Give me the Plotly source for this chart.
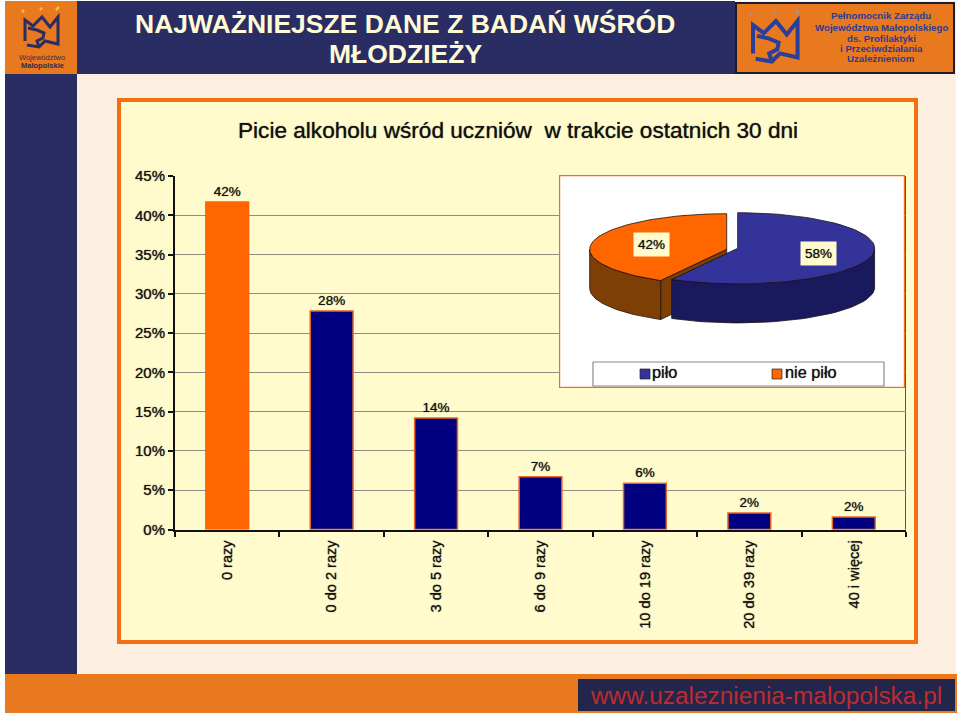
import math
import plotly.graph_objects as go

# ---- data ----
categories = ["0 razy", "0 do 2 razy", "3 do 5 razy", "6 do 9 razy", "10 do 19 razy", "20 do 39 razy", "40 i więcej"]
percent_values = [41.7, 27.8, 14.2, 6.7, 5.9, 2.1, 1.6]
percent_labels = ["42%", "28%", "14%", "7%", "6%", "2%", "2%"]
y_ticks = [0, 5, 10, 15, 20, 25, 30, 35, 40, 45]
pie_names = ["piło", "nie piło"]
pie_values = [58, 42]
title_text = "Picie alkoholu wśród uczniów  w trakcie ostatnich 30 dni"
header_lines = ["NAJWAŻNIEJSZE DANE Z BADAŃ WŚRÓD", "MŁODZIEŻY"]
right_logo_lines = ["Pełnomocnik Zarządu", "Województwa Małopolskiego", "ds. Profilaktyki", "i Przeciwdziałania", "Uzależnieniom"]
footer_text = "www.uzaleznienia-malopolska.pl"

W, H = 960, 716
NAVY = "#2A2D63"
ORANGE = "#E8791E"
CREAM = "#FDEFE0"
PANEL = "#FFFBCC"
FONT = "Liberation Sans"
SOFT = "0 0 1px rgba(0,0,0,0.75)"

px = lambda v: v / W
py = lambda v: 1 - v / H


def rect(x0, y0, x1, y1, fill, line=None, lw=0, layer="below"):
    return dict(type="rect", xref="paper", yref="paper", x0=px(x0), x1=px(x1), y0=py(y0), y1=py(y1),
                fillcolor=fill, line=dict(color=line or fill, width=lw), layer=layer)


def path(points, color, width=3):
    d = "M" + " L".join(f"{px(a):.5f},{py(b):.5f}" for a, b in points)
    return dict(type="path", xref="paper", yref="paper", path=d, layer="above",
                line=dict(color=color, width=width), fillcolor="rgba(0,0,0,0)")


def text(x, y, s, size, color, shadow="none"):
    return dict(xref="paper", yref="paper", x=px(x), y=py(y), text=s, showarrow=False,
                xanchor="center", yanchor="middle", font=dict(family=FONT, size=size, color=color, shadow=shadow))


# ---- page furniture ----
shapes = [
    rect(5, 1, 956, 713, CREAM),
    rect(5, 1, 735, 74, NAVY),
    rect(5, 1, 77, 74, ORANGE),
    rect(5, 74, 77, 674, NAVY),
    rect(5, 674, 957, 713, ORANGE),
    rect(578, 679, 955, 711, "#22264A"),
    rect(735, 2, 955, 74, "#1F1B2E"),
    rect(737, 4, 953, 72, ORANGE),
    rect(119, 100, 916, 642, PANEL, "#F36F12", 4),
    dict(type="line", xref="paper", yref="paper", x0=px(905.5), x1=px(905.5), y0=py(529.5), y1=py(176),
         line=dict(color="#55554A", width=1), layer="below"),
]


def crown(dx, dy, s, color, width):
    out = [(0, 24), (0, 3), (8, 9), (17, 0), (25, 10), (33, 0), (33, 27), (20, 24), (14, 30), (2, 28)]
    river = [(3, 11), (12, 13), (19, 16), (18, 21), (12, 24), (14, 30)]
    return [
        path([(dx + s * a, dy + s * b) for a, b in out], color, width),
        path([(dx + s * a, dy + s * b) for a, b in river], color, width),
    ]


shapes += crown(25, 17, 1, NAVY, 3)
shapes += crown(753, 21, 1.35, "#2A3F9A", 4)
for a, b, c, d in [(22, 12, 24, 10), (40, 10, 42, 8), (56, 10, 59, 7)]:
    shapes.append(path([(a, b), (c, d)], "#F6C23A", 2.5))
for a, b, c, d in [(750, 16, 752, 14), (774, 14, 776, 12), (796, 13, 799, 11)]:
    shapes.append(path([(a, b), (c, d)], "#9E8FA8", 3))

annotations = [
    text(405, 24, f"<b>{header_lines[0]}</b>", 26.5, "#FFFBD6"),
    text(405, 54, f"<b>{header_lines[1]}</b>", 26.5, "#FFFBD6"),
    text(42, 57, "Województwo", 7.5, "#3A3040"),
    text(42, 65, "<b>Małopolskie</b>", 7.5, "#2A2D50"),
    text(518, 131, title_text, 22.6, "#111111", SOFT),
    text(766, 695, footer_text, 24.4, "#BE2B30"),
]
for yy, line in zip([16, 27.5, 38, 48.5, 59], right_logo_lines):
    annotations.append(text(881, yy, f"<b>{line}</b>", 9.7, "#2E3C92"))

fig = go.Figure()

# ---- bar chart ----
fig.add_trace(go.Bar(
    x=categories, y=percent_values, text=percent_labels, textposition="outside", cliponaxis=False,
    textfont=dict(family=FONT, size=13.5, color="#111111", shadow=SOFT), showlegend=False,
    marker=dict(color=["#FF6600"] + ["#000080"] * 6,
                line=dict(color=["#FF6600"] + ["#E8662A"] * 6, width=1.5)),
))

# ---- pie panel, exploded 3-D look computed from the shares ----
RX, RY, DEPTH, F_X, F_Y = 137, 35.6, 39, 346, 213
share = pie_values[0] / sum(pie_values)
split = 2 * math.pi * share
CX_N, CY_N = 737.7 - 559, 248.3 - 175
CX_O, CY_O = 726.7 - 559, 249.3 - 175


def arc(cx, cy, a0, a1, n=70):
    return [(cx + RX * math.sin(a0 + (a1 - a0) * i / n), cy - RY * math.cos(a0 + (a1 - a0) * i / n))
            for i in range(n + 1)]


def poly(pts, fill, lw=0.8, color="#1A1010"):
    xs, ys = zip(*pts)
    fig.add_trace(go.Scatter(x=list(xs) + [xs[0]], y=list(ys) + [ys[0]], mode="lines", fill="toself", fillcolor=fill,
                             line=dict(color=color, width=lw), xaxis="x2", yaxis="y2", showlegend=False,
                             hoverinfo="skip", cliponaxis=False))


# frame and legend box
poly([(0, 0), (F_X, 0), (F_X, F_Y), (0, F_Y)], "white", 2.4, "#F0701A")
poly([(34, 187), (325, 187), (325, 211), (34, 211)], "white", 1.2, "#8A8A8A")

o_arc = arc(CX_O, CY_O, split, 2 * math.pi)
tip = o_arc[0]
poly([(tip[0], tip[1]), (CX_O, CY_O), (CX_O, CY_O + DEPTH), (tip[0], tip[1] + DEPTH)], "#7E3F05")
front = [p for p in o_arc if p[0] <= tip[0] and p[1] >= CY_O]
poly(front + [(a, b + DEPTH) for a, b in reversed(front)], "#7E3F05")
poly([(CX_O, CY_O)] + o_arc, "#FF6600")

n_arc = arc(CX_N, CY_N, 0, split)
n_front = [p for p in n_arc if p[1] >= CY_N]
poly(n_front + [(a, b + DEPTH) for a, b in reversed(n_front)], "#191A5E")
poly([(CX_N, CY_N)] + n_arc, "#333399")

# legend entries
fig.add_trace(go.Scatter(x=[86, 218], y=[199, 199], mode="markers", xaxis="x2", yaxis="y2",
                         showlegend=False, hoverinfo="skip",
                         marker=dict(symbol="square", size=10, color=["#333399", "#FF6600"],
                                     line=dict(color="#222", width=0.7))))
fig.add_trace(go.Scatter(x=[93, 226], y=[199, 199], mode="text", text=pie_names, textposition="middle right",
                         textfont=dict(family=FONT, size=16.3, color="#111111", shadow=SOFT), xaxis="x2", yaxis="y2",
                         showlegend=False, hoverinfo="skip"))

# slice labels
mid_n = split / 2
mid_o = split + (2 * math.pi - split) / 2
for cx, cy, mid, f, v in [(CX_O, CY_O, mid_o, 0.565, pie_values[1]), (CX_N, CY_N, mid_n, 0.61, pie_values[0])]:
    annotations.append(dict(xref="x2", yref="y2", x=cx + RX * f * math.sin(mid), y=cy - RY * f * math.cos(mid),
                            text=f"{v}%", showarrow=False, bgcolor=PANEL, borderpad=4,
                            font=dict(family=FONT, size=13.5, color="#111111", shadow=SOFT)))

y_font = dict(family=FONT, size=15, color="#111111", shadow=SOFT)
x_font = dict(family=FONT, size=14.6, color="#111111", shadow=SOFT)
fig.update_layout(
    width=W, height=H, margin=dict(l=0, r=0, t=0, b=0, pad=0, autoexpand=False), autosize=False,
    paper_bgcolor="white", plot_bgcolor="rgba(0,0,0,0)", bargap=0.59, showlegend=False,
    font=dict(family=FONT, color="#111111"),
    shapes=shapes, annotations=annotations,
    xaxis=dict(domain=[px(175), px(906)], type="category", tickson="boundaries", ticks="outside", ticklen=5,
               tickwidth=1.5, tickcolor="#111", showline=True, linecolor="#111", linewidth=2, showgrid=False,
               tickangle=-90, tickfont=x_font, anchor="y", automargin=False, ticklabelstandoff=3),
    yaxis=dict(domain=[py(529.5), py(176)], range=[0, 45], tickmode="array", tickvals=y_ticks,
               ticktext=[f"{t}%" for t in y_ticks], ticks="outside", ticklen=5, tickwidth=1.5, tickcolor="#111",
               showline=True, linecolor="#111", linewidth=2, showgrid=True, gridcolor="#8E8E80", gridwidth=1.3,
               zeroline=False, tickfont=y_font, anchor="x", automargin=False),
    xaxis2=dict(domain=[px(559), px(905)], range=[0, F_X], visible=False, anchor="y2", fixedrange=True, automargin=False),
    yaxis2=dict(domain=[py(388), py(175)], range=[F_Y, 0], visible=False, anchor="x2", fixedrange=True, automargin=False),
)
fig.write_html("out.html", config={"displayModeBar": False}, post_script="document.body.style.margin='0';")
